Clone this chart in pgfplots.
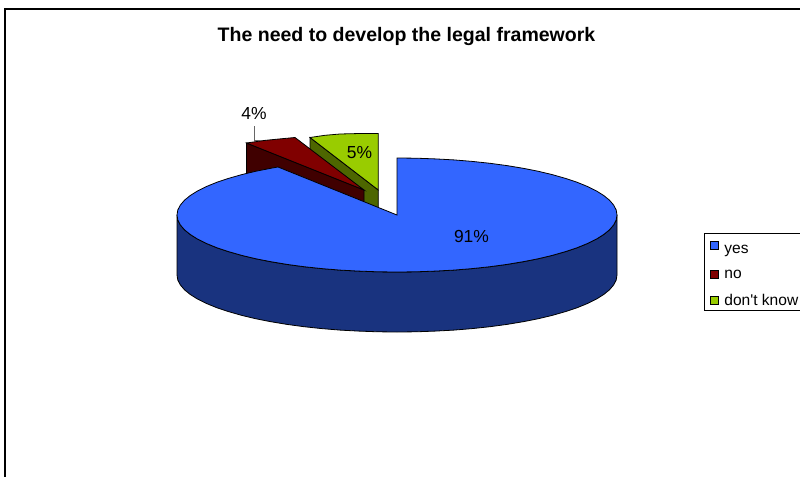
\documentclass[border=0pt]{standalone}
\usepackage{pgfplots}
\pgfplotsset{compat=1.18}
\usepackage{fontspec}
\setmainfont{Liberation Sans}
\definecolor{sliceyes}{HTML}{3366FF}
\definecolor{sliceyeswall}{HTML}{19337F}
\definecolor{sliceno}{HTML}{800000}
\definecolor{slicenowall}{HTML}{400000}
\definecolor{slicedk}{HTML}{99CC00}
\definecolor{slicedkwall}{HTML}{4D6600}
\begin{document}
\begin{tikzpicture}
\useasboundingbox (0,0) rectangle (800bp,477bp);
\begin{axis}[
  at={(0,0)}, anchor=south west,
  scale only axis, width=800bp, height=477bp,
  xmin=0, xmax=800, ymin=0, ymax=477, y dir=reverse,
  hide axis, clip=false,
  legend cell align=left,
  legend image code/.code={
    \draw[#1, draw=black, line width=0.9pt] (0bp,-4bp) rectangle (8bp,4bp);
    \path (11.5bp,0bp);
  },
  legend style={
    at={(axis cs:704,233)}, anchor=north west,
    draw=black, line width=1pt, fill=white,
    font=\fontsize{15.6pt}{18pt}\selectfont,
    inner xsep=6bp, inner ysep=1.5bp,
    row sep=11.8bp,
    nodes={inner xsep=1.5bp, inner ysep=1.5bp},
  },
]
% Legend entries
\addlegendimage{fill=sliceyes}
\addlegendentry{\rule{0pt}{17bp}yes}
\addlegendimage{fill=sliceno}
\addlegendentry{no}
\addlegendimage{fill=slicedk}
\addlegendentry{don\textquotesingle t know}

% Chart frame, running off the right and bottom edges
\addplot[forget plot, black, line width=1.5pt] coordinates {(5,477) (5,9) (800,9)};

% don't know: 5 %
\addplot[forget plot, fill=slicedkwall, draw=black, line width=0.8pt] coordinates
  {(310,137.5) (378.3,190) (378.3,212) (310,165)} -- cycle;
\addplot[forget plot, fill=slicedk, draw=black, line width=0.8pt] coordinates
  {(378.3,190) (310,137.5) (325,135.3) (340,134) (360,133.5) (378.3,133.5)} -- cycle;

% no: 4 %
\addplot[forget plot, fill=slicenowall, draw=black, line width=0.8pt] coordinates
  {(246.5,143) (364,190) (364,205) (246.5,190)} -- cycle;
\addplot[forget plot, fill=sliceno, draw=black, line width=0.8pt] coordinates
  {(364,190) (246.5,143) (264,140.5) (279,139) (295,137.5)} -- cycle;

% yes: 91 %, side wall of the near half
\addplot[forget plot, fill=sliceyeswall, draw=black, line width=0.8pt] coordinates {
  (177,215) (177.8,220) (180.3,224.9) (184.5,229.8) (190.3,234.5) (197.6,239.1)
  (206.5,243.5) (216.8,247.7) (228.5,251.6) (241.4,255.3) (255.6,258.7) (270.8,261.7)
  (287,264.4) (304,266.7) (321.8,268.6) (340.1,270.1) (358.8,271.1) (377.8,271.8)
  (397,272) (416.2,271.8) (435.2,271.1) (453.9,270.1) (472.2,268.6) (490,266.7)
  (507,264.4) (523.2,261.7) (538.4,258.7) (552.6,255.3) (565.5,251.6) (577.2,247.7)
  (587.5,243.5) (596.4,239.1) (603.7,234.5) (609.5,229.8) (613.7,224.9) (616.2,220)
  (617,215)
  (617,275) (616.2,280) (613.7,284.9) (609.5,289.8) (603.7,294.5) (596.4,299.1)
  (587.5,303.5) (577.2,307.7) (565.5,311.6) (552.6,315.3) (538.4,318.7) (523.2,321.7)
  (507,324.4) (490,326.7) (472.2,328.6) (453.9,330.1) (435.2,331.1) (416.2,331.8)
  (397,332) (377.8,331.8) (358.8,331.1) (340.1,330.1) (321.8,328.6) (304,326.7)
  (287,324.4) (270.8,321.7) (255.6,318.7) (241.4,315.3) (228.5,311.6) (216.8,307.7)
  (206.5,303.5) (197.6,299.1) (190.3,294.5) (184.5,289.8) (180.3,284.9) (177.8,280)
  (177,275)
} -- cycle;

% yes: 91 %, top face
\addplot[forget plot, fill=sliceyes, draw=black, line width=0.8pt] coordinates {
  (397,215) (397,158) (416.2,158.2) (435.2,158.9) (453.9,159.9) (472.2,161.4)
  (490,163.3) (507,165.6) (523.2,168.3) (538.4,171.3) (552.6,174.7) (565.5,178.4)
  (577.2,182.3) (587.5,186.5) (596.4,190.9) (603.7,195.5) (609.5,200.2) (613.7,205.1)
  (616.2,210) (617,215) (616.2,220) (613.7,224.9) (609.5,229.8) (603.7,234.5)
  (596.4,239.1) (587.5,243.5) (577.2,247.7) (565.5,251.6) (552.6,255.3) (538.4,258.7)
  (523.2,261.7) (507,264.4) (490,266.7) (472.2,268.6) (453.9,270.1) (435.2,271.1)
  (416.2,271.8) (397,272) (377.8,271.8) (358.8,271.1) (340.1,270.1) (321.8,268.6)
  (304,266.7) (287,264.4) (270.8,261.7) (255.6,258.7) (241.4,255.3) (228.5,251.6)
  (216.8,247.7) (206.5,243.5) (197.6,239.1) (190.3,234.5) (184.5,229.8) (180.3,224.9)
  (177.8,220) (177,215) (177.8,210) (180.3,205.1) (184.5,200.2) (190.3,195.5)
  (197.6,190.9) (206.5,186.5) (216.8,182.3) (228.5,178.4) (241.4,174.7) (255.6,171.3)
  (270.8,168.3) (278,167)
} -- cycle;

% Leader line of the 4 % label
\addplot[forget plot, gray!80!black, line width=0.8pt] coordinates {(254,126) (254,140) (261,140)};

% Title and percentage labels
\node[font=\fontsize{19.6pt}{22pt}\selectfont\bfseries] at (axis cs:406.5,36.5) {The need to develop the legal framework};
\node[font=\fontsize{17.5pt}{20pt}\selectfont] at (axis cs:254,113.5) {4\%};
\node[font=\fontsize{17.5pt}{20pt}\selectfont] at (axis cs:359.5,152.5) {5\%};
\node[font=\fontsize{17.5pt}{20pt}\selectfont] at (axis cs:471.5,236.5) {91\%};
\end{axis}
\end{tikzpicture}
\end{document}
